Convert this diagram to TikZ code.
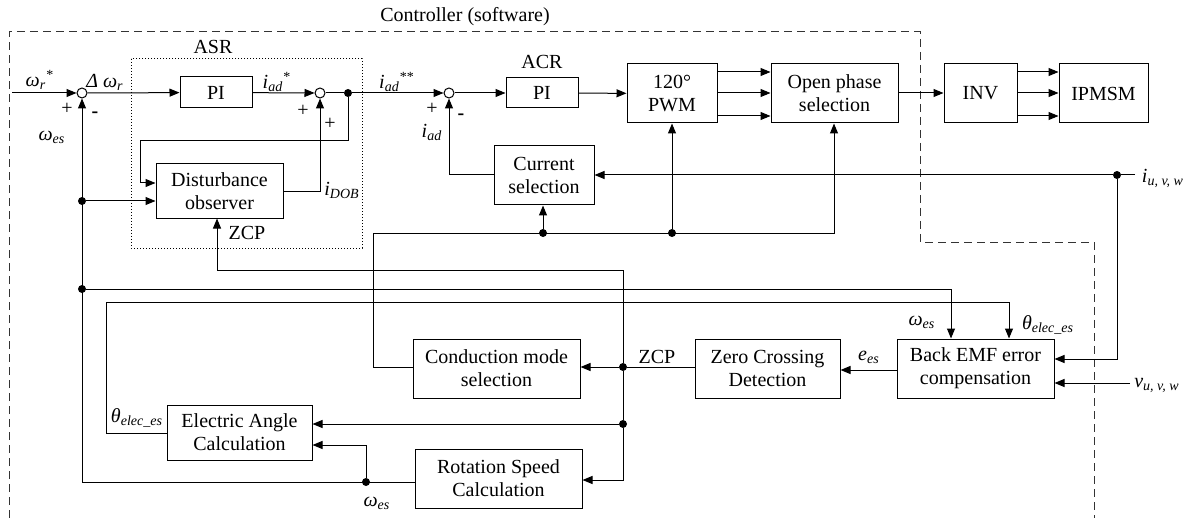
\documentclass[tikz,border=0pt]{standalone}
\usepackage{fontspec}
\setmainfont{Liberation Serif}
\usetikzlibrary{arrows.meta}
\begin{document}
\begin{tikzpicture}[x=0.5pt,y=-0.5pt,
  box/.style={draw,line width=0.5pt,align=center,inner sep=0pt,font=\fontsize{10pt}{11.5pt}\selectfont},
  sumc/.style={draw,circle,fill=white,inner sep=0pt,minimum size=5pt,line width=0.5pt},
  arr/.style={-{Triangle[length=5pt,width=4pt]},line width=0.5pt},
  ln/.style={line width=0.5pt},
  lab/.style={font=\fontsize{10pt}{12pt}\selectfont,inner sep=0pt},
  dotc/.style={circle,fill,inner sep=0pt,minimum size=4pt}
]
\useasboundingbox (0,0) rectangle (1192,518);

% frames
\draw[line width=0.5pt,dash pattern=on 4pt off 2.5pt,black!80] (9,518) -- (9,32) -- (920,32) -- (920,242) -- (1094,242) -- (1094,518);
\draw[line width=0.5pt,dash pattern=on 0.6pt off 0.9pt] (131,59) rectangle (362,248);
\node[lab] (ctrl) at (465,17) {Controller (software)};
\node[lab] (asr) at (213,47) {ASR};
\node[lab] (acr) at (542,62) {ACR};

% blocks
\node[box,minimum width=36pt,minimum height=15.5pt] (pi1) at (216,92.5) {PI};
\node[box,minimum width=63.5pt,minimum height=27pt] (dob) at (219.5,191) {Disturbance\\observer};
\node[box,minimum width=36pt,minimum height=15pt] (pi2) at (542,93) {PI};
\node[box,minimum width=45pt,minimum height=29.5pt] (pwm) at (672,93.5) {120°\\PWM};
\node[box,minimum width=63.5pt,minimum height=29.5pt] (ops) at (834.5,93.5) {Open phase\\selection};
\node[box,minimum width=36.5pt,minimum height=29.5pt] (inv) at (980.5,93.5) {INV};
\node[box,minimum width=44.5pt,minimum height=29.5pt] (ipm) at (1103.5,93.5) {IPMSM};
\node[box,minimum width=50pt,minimum height=29.5pt] (cur) at (544,175.5) {Current\\selection};
\node[box,minimum width=83.5pt,minimum height=29.5pt] (cms) at (496.5,368.5) {Conduction mode\\selection};
\node[box,minimum width=72.5pt,minimum height=29.5pt] (zcd) at (767.5,368.5) {Zero Crossing\\Detection};
\node[box,minimum width=78.5pt,minimum height=29.5pt] (bemf) at (975.5,368.5) {Back EMF error\\compensation};
\node[box,minimum width=72.5pt,minimum height=27.5pt] (eac) at (239.5,432.5) {Electric Angle\\Calculation};
\node[box,minimum width=83.5pt,minimum height=29.5pt] (rsc) at (498.5,478.5) {Rotation Speed\\Calculation};

% summing points
\node[sumc] (s1) at (82,93) {};
\node[sumc] (s2) at (320,93) {};
\node[sumc] (s3) at (449,93) {};

% junction dots
\node[dotc] (d1) at (348,93) {};
\node[dotc] (d2) at (82,201) {};
\node[dotc] (d3) at (82,289) {};
\node[dotc] (d4) at (543,233) {};
\node[dotc] (d5) at (672,233) {};
\node[dotc] (d6) at (1117,175) {};
\node[dotc] (d7) at (623,367) {};
\node[dotc] (d8) at (623,424) {};
\node[dotc] (d9) at (366,482) {};

\coordinate (win) at (12,93);
\coordinate (iin) at (1135,175);
\coordinate (vin) at (1130,383);

% speed loop
\draw[arr] (win) -- (s1);
\draw[arr] (s1) -- (pi1);
\draw[arr] (pi1) -- (s2);
\draw[ln] (s2) -- (d1);
\draw[arr] (d1) -- (s3);
\draw[arr] (d1) -- (348,141) -- (140,141) -- (140,183) -- (dob.west |- 0,183);
\draw[arr] (dob.east |- 0,192) -| (s2.south);
\draw[arr] (rsc.west |- 0,482) -| (s1.south);
\draw[arr] (d2) -- (dob.west |- 0,201);
\draw[arr] (d3) -| (bemf.north -| 951,0);
\draw[arr] (eac.west |- 0,433) -- (106,433) -- (106,302) -| (bemf.north -| 1009,0);

% current loop
\draw[arr] (s3) -- (pi2);
\draw[arr] (pi2) -- (pwm);
\draw[arr] (pwm.east |- 0,72) -- (ops.west |- 0,72);
\draw[arr] (pwm.east |- 0,93) -- (ops.west |- 0,93);
\draw[arr] (pwm.east |- 0,116) -- (ops.west |- 0,116);
\draw[arr] (ops.east |- 0,93) -- (inv.west |- 0,93);
\draw[arr] (inv.east |- 0,72) -- (ipm.west |- 0,72);
\draw[arr] (inv.east |- 0,93) -- (ipm.west |- 0,93);
\draw[arr] (inv.east |- 0,116) -- (ipm.west |- 0,116);
\draw[arr] (cur.west |- 0,175) -| (s3.south);
\draw[ln] (iin) -- (d6);
\draw[arr] (d6) -- (cur.east |- 0,175);
\draw[arr] (d6) |- (bemf.east |- 0,359);
\draw[arr] (vin) -- (bemf.east |- 0,383);

% sensorless chain
\draw[arr] (bemf.west |- 0,370) -- (zcd.east |- 0,370);
\draw[ln] (zcd.west |- 0,367) -- (d7);
\draw[arr] (d7) -- (cms.east |- 0,367);
\draw[arr] (d7) -- (623,270) -| (dob.south -| 217,0);
\draw[ln] (d7) -- (d8);
\draw[arr] (d8) -- (eac.east |- 0,424);
\draw[arr] (d8) -- (623,480) -- (rsc.east |- 0,480);
\draw[arr] (d9) |- (eac.east |- 0,445);
\draw[arr] (cms.west |- 0,367) -- (373,367) -- (373,233) -| (ops.south -| 834,0);
\draw[arr] (d4) -- (cur.south -| 543,0);
\draw[arr] (d5) -- (pwm.south -| 672,0);

% labels
\node[lab] (l1) at (40,80) {\textit{ω}\textsubscript{\textit{r}}\textsuperscript{*}};
\node[lab] (l2) at (105,82) {\textit{Δ ω}\textsubscript{\textit{r}}};
\node[lab] (l3) at (67,109) {+};
\node[lab] (l4) at (95,115) {\textbf{-}};
\node[lab] (l5) at (52,137) {\textit{ω}\textsubscript{\textit{es}}};
\node[lab] (l6) at (277,82) {\textit{i}\textsubscript{\textit{ad}}\textsuperscript{*}};
\node[lab] (l7) at (303,111) {+};
\node[lab] (l8) at (330,124) {+};
\node[lab] (l9) at (342,190) {\textit{i}\textsubscript{\textit{DOB}}};
\node[lab] (l10) at (247,233) {ZCP};
\node[lab] (l11) at (397,82) {\textit{i}\textsubscript{\textit{ad}}\textsuperscript{**}};
\node[lab] (l12) at (432,109) {+};
\node[lab] (l13) at (461,117) {\textbf{-}};
\node[lab] (l14) at (432,132) {\textit{i}\textsubscript{\textit{ad}}};
\node[lab] (l15) at (1163,178) {\textit{i}\textsubscript{\textit{u, v, w}}};
\node[lab] (l16) at (1157,385) {\textit{v}\textsubscript{\textit{u, v, w}}};
\node[lab] (l17) at (922,322) {\textit{ω}\textsubscript{\textit{es}}};
\node[lab] (l18) at (1048,325) {\textit{θ}\textsubscript{\textit{elec\_es}}};
\node[lab] (l19) at (869,357) {\textit{e}\textsubscript{\textit{es}}};
\node[lab] (l20) at (657,357) {ZCP};
\node[lab] (l21) at (137,418) {\textit{θ}\textsubscript{\textit{elec\_es}}};
\node[lab] (l22) at (377,503) {\textit{ω}\textsubscript{\textit{es}}};
\end{tikzpicture}
\end{document}
